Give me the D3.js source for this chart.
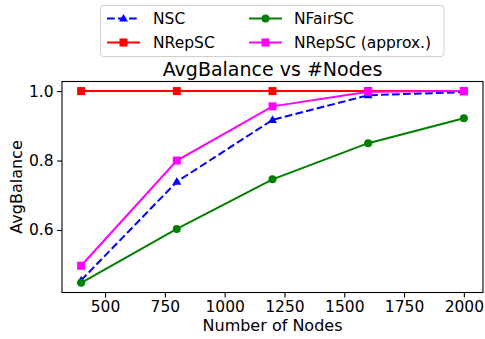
<!DOCTYPE html>
<html>
<head>
<meta charset="utf-8">
<script src="https://cdn.jsdelivr.net/npm/d3@7"></script>
<style>
  html, body { margin: 0; padding: 0; background: #fff; }
  svg { display: block; font-family: "DejaVu Sans", sans-serif; }
</style>
</head>
<body>
<svg id="chart" width="485" height="339"></svg>
<script>
// Number of nodes on the x axis
const nodes = [400, 800, 1200, 1600, 2000];

// Average balance per method
const nsc          = [0.455, 0.739, 0.917, 0.988, 0.997];
const nrepsc       = [1.0, 1.0, 1.0, 1.0, 1.0];
const nfairsc      = [0.448, 0.603, 0.746, 0.850, 0.922];
const nrepscApprox = [0.497, 0.800, 0.956, 0.998, 1.0];

// Tick values
const xTicks = [500, 750, 1000, 1250, 1500, 1750, 2000];
const yTicks = [0.6, 0.8, 1.0];

const series = [
  { name: "NSC", values: nsc, color: "#0000ff", marker: "triangle", dash: "7.7,3.3" },
  { name: "NRepSC", values: nrepsc, color: "#ff0000", marker: "square", dash: null },
  { name: "NFairSC", values: nfairsc, color: "#008000", marker: "circle", dash: null },
  { name: "NRepSC (approx.)", values: nrepscApprox, color: "#ff00ff", marker: "square", dash: null }
];

const svg = d3.select("#chart");
const plot = { left: 62, right: 483, top: 81.5, bottom: 292.5 };

const x = d3.scaleLinear().domain([320, 2080]).range([plot.left, plot.right]);
const y = d3.scaleLinear().domain([0.42, 1.0276]).range([plot.bottom, plot.top]);

// Axes
const xAxis = d3.axisBottom(x).tickValues(xTicks).tickFormat(d3.format("d")).tickSizeOuter(0).tickSize(4.9).tickPadding(3.5);
const yAxis = d3.axisLeft(y).tickValues(yTicks).tickFormat(d3.format(".1f")).tickSizeOuter(0).tickSize(4.9).tickPadding(3.5);

const gx = svg.append("g").attr("transform", `translate(0,${plot.bottom})`).call(xAxis);
const gy = svg.append("g").attr("transform", `translate(${plot.left},0)`).call(yAxis);
[gx, gy].forEach(g => {
  g.select(".domain").remove();
  g.selectAll(".tick line").attr("stroke", "#000").attr("stroke-width", 1.1);
  g.selectAll(".tick text").attr("fill", "#000").attr("font-size", "15.5px")
    .attr("font-family", "DejaVu Sans, sans-serif");
});

// Axis frame
svg.append("rect")
  .attr("x", plot.left).attr("y", plot.top)
  .attr("width", plot.right - plot.left).attr("height", plot.bottom - plot.top)
  .attr("fill", "none").attr("stroke", "#000").attr("stroke-width", 1.1);

// Lines and markers
const line = d3.line().x((d, i) => x(nodes[i])).y(d => y(d));

function drawMarker(g, type, cx, cy, color) {
  if (type === "square") {
    g.append("rect").attr("x", cx - 4).attr("y", cy - 4).attr("width", 8).attr("height", 8)
      .attr("fill", color);
  } else if (type === "circle") {
    g.append("circle").attr("cx", cx).attr("cy", cy).attr("r", 4).attr("fill", color);
  } else if (type === "triangle") {
    const s = d3.symbol().type(d3.symbolTriangle).size(34);
    g.append("path").attr("d", s()).attr("transform", `translate(${cx},${cy + 0.5})`).attr("fill", color);
  }
}

series.forEach(s => {
  const g = svg.append("g");
  g.append("path").datum(s.values)
    .attr("d", line)
    .attr("fill", "none")
    .attr("stroke", s.color)
    .attr("stroke-width", 2)
    .attr("stroke-dasharray", s.dash);
  s.values.forEach((v, i) => drawMarker(g, s.marker, x(nodes[i]), y(v), s.color));
});

// Title and axis labels
svg.append("text").attr("x", (plot.left + plot.right) / 2).attr("y", 75.5)
  .attr("text-anchor", "middle").attr("font-size", "19px").text("AvgBalance vs #Nodes");
svg.append("text").attr("x", (plot.left + plot.right) / 2).attr("y", 331)
  .attr("text-anchor", "middle").attr("font-size", "16px").text("Number of Nodes");
svg.append("text")
  .attr("transform", `translate(22,${(plot.top + plot.bottom) / 2}) rotate(-90)`)
  .attr("text-anchor", "middle").attr("font-size", "16px").text("AvgBalance");

// Legend
const legend = svg.append("g");
legend.append("rect").attr("x", 100.5).attr("y", 5.5).attr("width", 343.5).attr("height", 51)
  .attr("rx", 3).attr("fill", "#fff").attr("fill-opacity", 0.8)
  .attr("stroke", "#d0d0d0").attr("stroke-width", 1);

const legendPos = [
  { hx: 107, tx: 153, y: 18.5 },
  { hx: 107, tx: 153, y: 42.5 },
  { hx: 249, tx: 294, y: 18.5 },
  { hx: 249, tx: 294, y: 42.5 }
];
series.forEach((s, i) => {
  const p = legendPos[i];
  legend.append("line").attr("x1", p.hx).attr("x2", p.hx + 33).attr("y1", p.y).attr("y2", p.y)
    .attr("stroke", s.color).attr("stroke-width", 2).attr("stroke-dasharray", s.dash);
  drawMarker(legend, s.marker, p.hx + 16.5, p.y, s.color);
  legend.append("text").attr("x", p.tx).attr("y", p.y + 5.5).attr("font-size", "15.5px").text(s.name);
});
</script>
</body>
</html>
